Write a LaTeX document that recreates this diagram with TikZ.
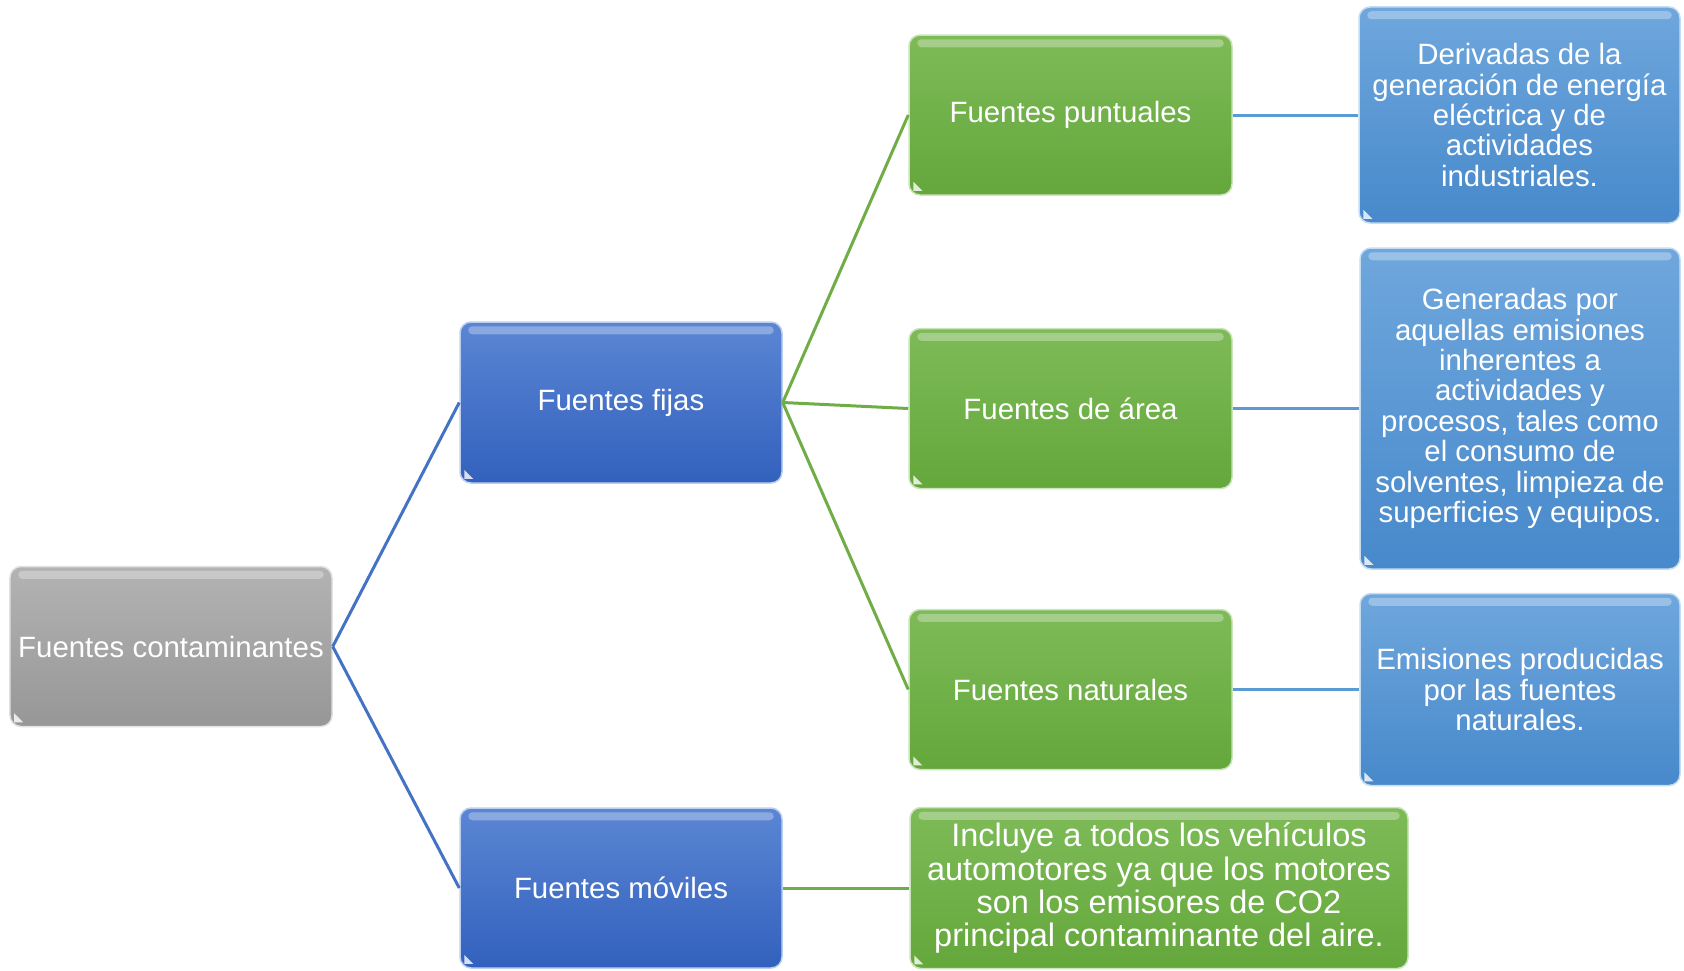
\documentclass[tikz,border=0pt]{standalone}
\usepackage{fontspec}
\setmainfont{Liberation Sans}
\usetikzlibrary{calc}
\definecolor{grayT}{HTML}{B3B3B3}
\definecolor{grayB}{HTML}{979797}
\definecolor{dblueT}{HTML}{5B86D4}
\definecolor{dblueB}{HTML}{3261BD}
\definecolor{greenT}{HTML}{7EBB58}
\definecolor{greenB}{HTML}{64A73B}
\definecolor{lblueT}{HTML}{6FA7DD}
\definecolor{lblueB}{HTML}{4789CB}
\definecolor{lnBlue}{HTML}{4472C4}
\definecolor{lnGreen}{HTML}{70AD47}
\definecolor{lnLight}{HTML}{5B9BD5}
\tikzset{
  box/.style={rounded corners=11bp, minimum width=322bp, minimum height=160bp,
    inner sep=0pt, align=center, text=white, line width=1.5bp,
    font=\fontsize{29.5}{30.5}\selectfont},
  graybox/.style={box, top color=grayT, bottom color=grayB, draw=grayT!40!white},
  dbluebox/.style={box, top color=dblueT, bottom color=dblueB, draw=dblueT!40!white},
  greenbox/.style={box, top color=greenT, bottom color=greenB, draw=greenT!40!white},
  lbluebox/.style={box, top color=lblueT, bottom color=lblueB, draw=lblueT!40!white},
  conn/.style={line width=3bp},
}
\begin{document}
\begin{tikzpicture}[x=1bp,y=-1bp]
\useasboundingbox (0,0) rectangle (1684,970);
\node[graybox] (root) at (171,646.5) {Fuentes contaminantes};
\node[dbluebox, minimum height=161bp] (fijas) at (621,402.5) {Fuentes fijas};
\node[dbluebox] (moviles) at (621,888) {Fuentes móviles};
\node[greenbox, minimum width=323bp] (punt) at (1070.5,115) {Fuentes puntuales};
\node[greenbox, minimum width=323bp] (area) at (1070.5,408.5) {Fuentes de área};
\node[greenbox, minimum width=323bp] (nat) at (1070.5,689.5) {Fuentes naturales};
\node[lbluebox, minimum width=321bp, minimum height=216bp] (der) at (1519.5,115)
  {Derivadas de la\\generación de energía\\eléctrica y de\\actividades\\industriales.};
\node[lbluebox, minimum width=320bp, minimum height=321bp] (gen) at (1520,408.5)
  {Generadas por\\aquellas emisiones\\inherentes a\\actividades y\\procesos, tales como\\el consumo de\\solventes, limpieza de\\superficies y equipos.};
\node[lbluebox, minimum width=320bp, minimum height=192bp] (emi) at (1520,689.5)
  {Emisiones producidas\\por las fuentes\\naturales.};
\node[greenbox, minimum width=498bp, minimum height=161bp,
  font=\fontsize{32.6}{33.3}\selectfont] (incl) at (1159,888)
  {Incluye a todos los vehículos\\automotores ya que los motores\\son los emisores de CO2\\principal contaminante del aire.};
% highlights
\foreach \n in {root,fijas,moviles,punt,area,nat,der,gen,emi,incl}{
  \fill[white,opacity=0.3,rounded corners=4bp] ($(\n.north west)+(9,5)$) rectangle ($(\n.north east)+(-9,13)$);
  \fill[white,opacity=0.8] ($(\n.south west)+(5,-5)$) -- ++(9,0) -- ++(-9,-9) -- cycle;
}
% connectors
\draw[conn,lnBlue] (root.east) -- (fijas.west);
\draw[conn,lnBlue] (root.east) -- (moviles.west);
\draw[conn,lnGreen] (fijas.east) -- (punt.west);
\draw[conn,lnGreen] (fijas.east) -- (area.west);
\draw[conn,lnGreen] (fijas.east) -- (nat.west);
\draw[conn,lnGreen] (moviles.east) -- (incl.west);
\draw[conn,lnLight] (punt.east) -- (der.west);
\draw[conn,lnLight] (area.east) -- (gen.west);
\draw[conn,lnLight] (nat.east) -- (emi.west);
\end{tikzpicture}
\end{document}
